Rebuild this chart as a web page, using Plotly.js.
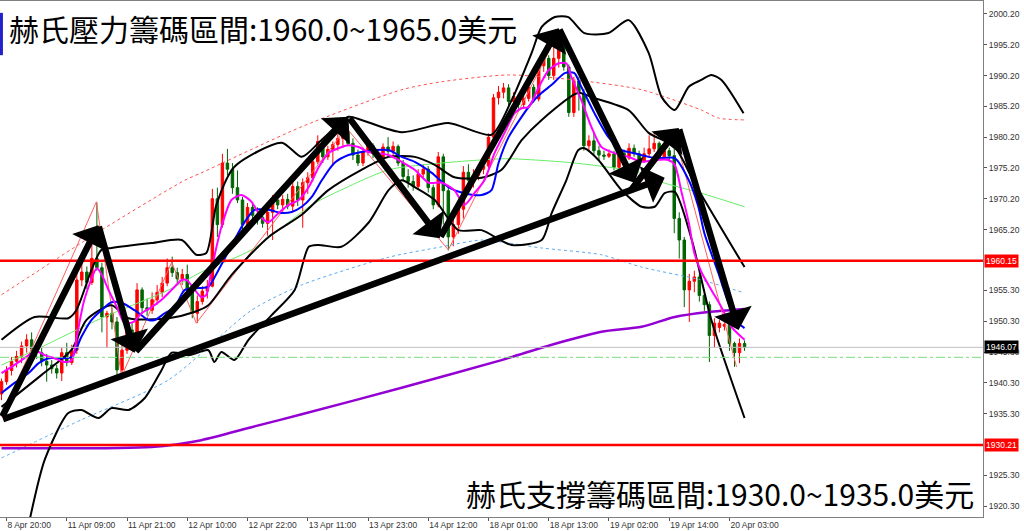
<!DOCTYPE html>
<html><head><meta charset="utf-8">
<script src="https://cdn.plot.ly/plotly-3.0.1.min.js"></script>
<style>html,body{margin:0;padding:0;background:#fff;}#chart{width:1024px;height:531px;}</style>
</head><body><div id="chart"></div>
<script>
// ---- candles (hourly bars, index 0..148) ----
const barOpen = [1938.5,1940.5,1942.3,1943.8,1944.6,1946.3,1947.3,1945.8,1945.2,1943.8,1943.2,1942.6,1941.9,1945.2,1943.6,1945.6,1957.0,1958.3,1956.6,1960.5,
1959.0,1951.0,1951.6,1950.2,1942.4,1945.6,1948.9,1947.8,1955.4,1952.5,1952.1,1953.8,1955.0,1956.5,1959.0,1958.2,1957.2,1957.9,1955.3,1951.6,
1953.5,1955.2,1956.0,1970.2,1966.0,1976.0,1975.0,1972.0,1970.0,1966.0,1968.8,1967.5,1967.2,1966.2,1968.0,1970.0,1969.2,1970.1,1969.0,1972.2,
1970.0,1972.8,1973.6,1976.2,1979.5,1977.0,1978.2,1979.0,1980.0,1981.2,1979.2,1977.3,1976.0,1977.8,1978.8,1977.5,1976.8,1978.6,1977.9,1978.7,
1976.0,1973.8,1973.0,1972.2,1974.2,1975.0,1972.0,1969.2,1977.0,1971.5,1964.0,1966.0,1968.5,1974.5,1973.2,1974.0,1975.0,1975.5,1980.2,1986.6,
1987.5,1988.2,1986.0,1986.8,1985.5,1986.5,1988.3,1986.4,1991.8,1993.0,1990.2,1993.0,1995.5,1991.6,1984.2,1989.3,1987.2,1978.8,1979.6,1978.0,
1977.3,1977.1,1977.5,1975.3,1977.6,1976.8,1978.4,1977.5,1976.3,1977.5,1978.3,1979.2,1977.0,1978.0,1977.2,1967.0,1963.5,1955.4,1956.8,1957.5,
1954.5,1953.0,1948.0,1949.3,1949.5,1949.8,1946.7,1945.2,1946.7];
const barHigh = [1941.0,1943.0,1944.5,1945.5,1947.0,1948.2,1948.5,1946.8,1946.0,1945.0,1944.0,1943.2,1946.0,1946.8,1946.5,1958.2,1960.0,1959.2,1963.0,1969.6,
1959.8,1952.0,1952.5,1951.0,1946.5,1949.8,1950.0,1956.5,1955.8,1954.0,1955.0,1956.2,1957.5,1960.5,1960.8,1959.0,1958.8,1959.5,1955.8,1954.5,
1956.0,1957.0,1971.8,1972.0,1977.5,1978.3,1976.0,1974.8,1970.5,1969.5,1969.5,1968.8,1967.8,1968.5,1970.8,1970.8,1970.8,1971.0,1973.0,1973.0,
1973.5,1974.5,1977.0,1980.5,1980.0,1978.8,1979.5,1980.8,1982.0,1982.4,1980.0,1978.2,1978.5,1979.5,1979.2,1978.2,1979.2,1980.2,1979.5,1979.0,
1976.5,1975.0,1974.0,1975.0,1975.8,1975.5,1972.5,1977.8,1977.5,1972.0,1967.0,1969.5,1975.5,1975.8,1975.0,1975.8,1976.2,1980.8,1987.2,1988.5,
1989.0,1988.8,1987.5,1987.2,1987.2,1989.0,1988.8,1992.5,1993.8,1993.5,1995.0,1997.0,1996.2,1992.0,1990.0,1990.0,1988.0,1980.5,1981.0,1978.8,
1978.0,1978.2,1978.0,1978.3,1978.2,1979.2,1979.0,1978.0,1978.5,1980.5,1980.9,1979.5,1978.6,1978.5,1978.3,1968.0,1964.0,1958.0,1958.5,1958.0,
1955.5,1953.5,1950.8,1950.5,1950.3,1950.2,1947.0,1947.5,1947.2];
const barLow = [1937.5,1940.0,1941.5,1942.8,1943.5,1945.2,1945.2,1944.2,1943.0,1940.5,1941.8,1941.0,1940.6,1943.0,1943.2,1945.0,1956.0,1955.5,1956.2,1958.5,
1948.5,1946.0,1949.0,1941.5,1940.8,1945.0,1946.8,1947.0,1951.5,1951.2,1951.5,1953.0,1954.2,1956.0,1957.5,1956.5,1956.2,1954.5,1950.8,1950.0,
1953.0,1954.0,1955.8,1964.0,1965.5,1974.0,1971.0,1969.5,1965.0,1965.2,1967.0,1966.0,1965.5,1964.2,1963.5,1968.5,1968.0,1968.5,1968.0,1969.0,
1965.5,1971.0,1973.0,1975.8,1976.0,1976.5,1975.5,1978.0,1978.5,1978.8,1976.5,1975.5,1975.5,1977.2,1976.8,1976.0,1976.2,1977.0,1977.0,1975.5,
1973.0,1972.0,1971.5,1971.8,1973.5,1971.2,1968.5,1968.8,1966.0,1961.8,1962.5,1964.5,1967.0,1972.5,1972.0,1973.2,1974.2,1975.0,1979.8,1985.5,
1986.5,1985.2,1985.0,1984.8,1984.8,1986.0,1985.8,1986.0,1990.8,1989.5,1989.5,1991.5,1991.0,1983.5,1983.5,1984.5,1978.0,1977.8,1977.2,1976.5,
1976.5,1976.8,1974.8,1975.0,1976.0,1976.5,1977.0,1975.8,1976.0,1977.0,1977.8,1976.5,1976.5,1976.2,1964.6,1960.5,1952.6,1950.2,1955.0,1953.5,
1952.0,1943.7,1946.0,1948.5,1948.8,1945.5,1942.9,1943.5,1945.5];
const barClose = [1940.5,1942.3,1943.8,1944.6,1946.3,1947.3,1945.8,1945.2,1943.8,1943.2,1942.6,1941.9,1945.2,1943.6,1945.6,1957.0,1958.3,1956.6,1960.5,1959.0,
1951.0,1951.6,1950.2,1942.4,1945.6,1948.9,1947.8,1955.4,1952.5,1952.1,1953.8,1955.0,1956.5,1959.0,1958.2,1957.2,1957.9,1955.3,1951.6,1953.5,
1955.2,1956.0,1970.2,1966.0,1976.0,1975.0,1972.0,1970.0,1966.0,1968.8,1967.5,1967.2,1966.2,1968.0,1970.0,1969.2,1970.1,1969.0,1972.2,1970.0,
1972.8,1973.6,1976.2,1979.5,1977.0,1978.2,1979.0,1980.0,1981.2,1979.2,1977.3,1976.0,1977.8,1978.8,1977.5,1976.8,1978.6,1977.9,1978.7,1976.0,
1973.8,1973.0,1972.2,1974.2,1975.0,1972.0,1969.2,1977.0,1971.5,1964.0,1966.0,1968.5,1974.5,1973.2,1974.0,1975.0,1975.5,1980.2,1986.6,1987.5,
1988.2,1986.0,1986.8,1985.5,1986.5,1988.3,1986.4,1991.8,1993.0,1990.2,1993.0,1995.5,1991.6,1984.2,1989.3,1987.2,1978.8,1979.6,1978.0,1977.3,
1977.1,1977.5,1975.3,1977.6,1976.8,1978.4,1977.5,1976.3,1977.5,1978.3,1979.2,1977.0,1978.0,1977.2,1967.0,1963.5,1955.4,1956.8,1957.5,1954.5,
1953.0,1948.0,1950.0,1950.0,1949.8,1946.7,1945.2,1946.7,1946.07];

// ---- x-axis tick labels (every 12 bars) ----
const tickBars = [1,13,25,37,49,61,73,85,97,109,121,133,145];
const tickLabels = ['8 Apr 20:00','11 Apr 09:00','11 Apr 21:00','12 Apr 10:00','12 Apr 22:00','13 Apr 11:00','13 Apr 23:00','14 Apr 12:00','18 Apr 01:00','18 Apr 13:00','19 Apr 02:00','19 Apr 14:00','20 Apr 03:00'];
const priceTicks = [2000.2,1995.2,1990.2,1985.2,1980.2,1975.2,1970.2,1965.2,1955.3,1950.3,1945.3,1940.3,1935.3,1925.3,1920.3];

// ---- indicator lines (read as bar index / price pairs) ----
const fastMaBar = [0,2,4,6,7.4,8.6,10.6,12.5,14,15,16.5,19,20,21.3,23,24.5,26.3,27.9,29.9,31.9,33.9,35.9,36.9,38.5,39.8,40.8,41.8,43.8,45.8,47.8,49.8,51.8,53.2,55.2,57.2,59.2,61.2,63.2,65.1,67.1,69.1,71.1,73.1,75.1,77.1,79.7,82.3,85.1,87.7,90.2,92.2,94.2,96.2,98.2,100.2,102.2,103.6,105,107,109,111,112.5,113.5,115.5,117.5,119.5,122.1,124.9,127.5,130.1,132.9,134.1,135.5,136.9,138,139.4,141.4,143.4,145.4,148];
const fastMaVal = [1941.9,1942.9,1944.0,1945.1,1945.3,1944.8,1944.3,1943.7,1944.0,1947.8,1953.8,1958.9,1957.8,1955.4,1952.6,1950.0,1950.2,1951.6,1952.6,1953.8,1955.4,1957.0,1957.0,1955.4,1954.2,1954.6,1958.6,1965.6,1970.0,1970.8,1969.7,1967.1,1966.4,1967.9,1969.2,1970.0,1972.1,1975.35,1977.6,1978.4,1978.9,1978.6,1977.8,1977.6,1977.3,1976.2,1974.9,1972.8,1972.8,1971.6,1969.2,1971.1,1973.2,1977.6,1980.9,1984.1,1984.9,1985.1,1988.3,1991.1,1992.2,1992.2,1990.0,1986.2,1981.85,1978.6,1977.6,1977.0,1976.2,1976.5,1976.5,1975.7,1971.1,1966.3,1961.4,1958.3,1955.4,1952.6,1949.4,1947.3];
const slowMaBar = [0,2.6,5.4,7.4,9.4,12,14,15.9,17.9,19.9,21.9,23.9,26.5,29.3,30.5,32.5,34.5,36.5,39.2,41.2,43.2,46.4,48.4,50.4,53.2,55.8,57.8,59.8,61.8,63.8,66.3,69.1,71.7,74.3,77.1,79.7,82.3,85.7,89,92.2,95.6,97.6,99,101,103.6,105.6,107.6,109.6,112.2,114.1,115.5,118.1,120.9,123.5,126.1,128.9,131.5,134.1,136.9,138.8,140,142.8,144.8,146.8,148];
const slowMaVal = [1938.65,1940.3,1941.9,1943.5,1944.3,1944.3,1944.5,1947.75,1950.5,1952.1,1953.4,1953.3,1952.1,1950.5,1950.5,1951.6,1952.6,1955.4,1955.7,1955.9,1958.6,1963.5,1966.4,1968.4,1968.4,1967.9,1968.05,1968.9,1970.5,1973.2,1976.0,1977.3,1977.8,1978.1,1978.1,1977.0,1976.2,1974.4,1972.1,1971.1,1970.8,1971.6,1976.0,1980.2,1983.5,1985.75,1987.4,1988.7,1990.6,1990.6,1988.35,1984.1,1980.2,1978.1,1977.6,1977.0,1976.8,1976.8,1973.2,1968.9,1964.6,1958.1,1953.3,1950.0,1949.2];
const ma50Bar = [0,6.6,19.9,33.3,39.8,49.8,61.8,66.3,77.1,87.7,95.6,101,114.1,127.5,131.5,139.4,148];
const ma50Val = [1943.2,1945.6,1950.8,1955.4,1958.3,1961.9,1969.2,1971.1,1974.9,1976.0,1976.5,1976.7,1976.0,1974.4,1972.9,1971.1,1968.9];
const ma100Bar = [0,15.9,33.3,49.8,59.8,77.1,87.7,95.6,101,107.6,119.5,127.5,139.4,148];
const ma100Val = [1928.1,1934.3,1940.8,1952.1,1956.2,1960.7,1962.4,1963.5,1963.0,1962.2,1961.1,1959.1,1957.0,1954.9];
const envBar = [0,19.9,36.5,39.8,59.8,79.7,87.7,101,114.1,127.5,139.4,142.8,148];
const envVal = [1954.6,1965.1,1973.2,1974.4,1981.9,1987.9,1989.2,1990.3,1989.5,1987.9,1984.6,1983.3,1983.0];
const ma200Bar = [0,29.9,39.8,49.8,59.8,79.7,99.6,109.6,119.5,127.5,134.1,140.8,148];
const ma200Val = [1929.7,1929.9,1931.0,1933.1,1935.2,1939.5,1944.0,1946.5,1948.6,1949.4,1951.0,1951.8,1952.3];
const bbUpBar = [0,6.6,13.3,14.9,17.9,19.9,21.9,29.9,35.9,38.8,40.8,42.8,46.4,55.8,59.8,63.7,69.1,71.7,79.7,89,97.6,101.6,105.6,107.6,110.2,112.9,116.1,120.9,124.9,128.9,131.5,134.1,136.9,139.4,141.4,143.4,147.8];
const bbUpVal = [1947.3,1951.0,1950.8,1952.1,1958.6,1961.9,1962.2,1963.0,1963.5,1961.1,1961.4,1969.2,1975.4,1979.3,1977.0,1979.7,1983.5,1983.0,1981.0,1982.5,1980.6,1986.2,1993.9,1998.1,1999.7,1999.7,1997.1,1997.1,1999.2,1993.9,1986.7,1984.6,1988.4,1989.5,1990.3,1989.5,1984.1];
const bbMidBar = [0,8,13.9,16.9,21.9,25.3,33.3,38.4,41.2,45.8,53.2,59.8,65.1,71.7,77.1,82.3,86.3,90.2,95.6,99.6,103.6,107.6,114.9,117.5,124.9,128.9,134.1,138,148];
const bbMidVal = [1936.4,1941.6,1945.6,1950.5,1952.9,1950.8,1950.8,1951.8,1952.9,1957.8,1964.0,1967.6,1971.6,1974.9,1977.0,1977.0,1975.7,1973.7,1973.6,1974.9,1979.7,1983.0,1987.4,1986.7,1984.6,1980.9,1978.6,1972.8,1959.1];
const bbLowBar = [5.6,8.6,13.3,15.9,19.3,21.9,25.3,28.5,31.9,33.9,37.3,41.2,42.4,43.8,46.4,49.2,53.8,58.4,61.2,63.1,67.7,73.1,77.1,79.7,82.3,86.3,91.0,95.6,101.6,107.6,109.6,112.5,114.9,116.1,118.9,123.5,127.5,130.1,132.1,134.1,137.5,141.4,148];
const bbLowVal = [1918.0,1927.8,1935.4,1935.9,1934.6,1936.2,1935.9,1937.8,1942.4,1945.2,1944.8,1945.6,1943.7,1945.3,1944.0,1947.3,1951.3,1955.4,1962.4,1962.7,1962.4,1966.3,1971.6,1973.2,1972.1,1970.0,1965.1,1965.1,1962.7,1963.5,1967.9,1973.2,1978.1,1978.4,1976.5,1971.6,1968.9,1968.9,1971.1,1971.3,1963.5,1950.5,1934.6];
const zigBar = [0,18.9,23.9,33.9,38.8,68.7,89,111,126.9,134.1,146.4];
const zigVal = [1934.8,1969.7,1941.3,1959.9,1950.0,1981.7,1961.9,1997.3,1972.4,1980.6,1942.9];

// ---- levels ----
const resistLevel = 1960.15, supportLevel = 1930.21, lastPrice = 1946.07, bidLine = 1944.45;

// ---- hand-drawn arrows (tail -> tip, bar index / price) ----
const arrowTailBar = [0,19.3,26.5,69.1,87.3,111.0,125.1,134.9,0];
const arrowTailVal = [1934.6,1965.9,1945.2,1983.5,1963.8,1997.9,1971.3,1981.7,1934.3];
const arrowTipBar  = [19.3,26.5,69.1,87.3,111.0,126.1,134.9,146.8,132.1];
const arrowTipVal  = [1965.9,1945.2,1983.5,1963.8,1997.9,1972.8,1981.7,1948.9,1973.6];

const topText = '赫氏壓力籌碼區間:1960.0~1965.0美元';
const bottomText = '赫氏支撐籌碼區間:1930.0~1935.0美元';

const barIdx = barOpen.map((_, i) => i);

function line(xs, ys, color, width, dash, smooth) {
  return {type:'scatter', mode:'lines', x:xs, y:ys, hoverinfo:'skip', showlegend:false,
    line:{color:color, width:width, dash:dash||'solid', shape: smooth ? 'spline' : 'linear', smoothing: smooth?0.7:0}};
}

const traces = [
  line(ma100Bar, ma100Val, '#5aaaf0', 1, 'dot', true),
  line(envBar, envVal, '#ff5050', 1, 'dot', true),
  line(ma50Bar, ma50Val, '#66ee66', 1, 'solid', true),
  line(ma200Bar, ma200Val, '#9400d3', 2.5, 'solid', true),
  line(zigBar, zigVal, '#ff6060', 1, 'solid', false),
  {type:'candlestick', x:barIdx, open:barOpen, high:barHigh, low:barLow, close:barClose,
   increasing:{line:{color:'#ff0000', width:1}, fillcolor:'#ff0000'},
   decreasing:{line:{color:'#006400', width:1}, fillcolor:'#006400'},
   whiskerwidth:0, hoverinfo:'skip', showlegend:false},
  line(bbUpBar, bbUpVal, '#000000', 2, 'solid', true),
  line(bbMidBar, bbMidVal, '#000000', 2, 'solid', true),
  line(bbLowBar, bbLowVal, '#000000', 2, 'solid', true),
  line(slowMaBar, slowMaVal, '#0000ff', 2, 'solid', true),
  line(fastMaBar, fastMaVal, '#ff00ff', 2, 'solid', true)
];

const shapes = [
  {type:'line', xref:'paper', x0:0, x1:1, yref:'y', y0:lastPrice, y1:lastPrice, line:{color:'#c0c0c0', width:1}},
  {type:'line', xref:'paper', x0:0, x1:1, yref:'y', y0:bidLine, y1:bidLine, line:{color:'#77dd77', width:1, dash:'dashdot'}},
  {type:'line', xref:'paper', x0:0, x1:1, yref:'y', y0:resistLevel, y1:resistLevel, line:{color:'#ff0000', width:2.5}},
  {type:'line', xref:'paper', x0:0, x1:1, yref:'y', y0:supportLevel, y1:supportLevel, line:{color:'#ff0000', width:2.5}},
  {type:'rect', xref:'paper', yref:'paper', x0:0, x1:0.003, y0:0.895, y1:0.977, fillcolor:'#2222cc', line:{width:0}}
];

const annotations = [];
for (let i = 0; i < arrowTipBar.length; i++) {
  annotations.push({x:arrowTipBar[i], y:arrowTipVal[i], ax:arrowTailBar[i], ay:arrowTailVal[i],
    xref:'x', yref:'y', axref:'x', ayref:'y', text:'', showarrow:true,
    arrowhead:1, arrowsize:1, arrowwidth:6.5, arrowcolor:'#000000'});
}
function priceLabel(v, bg) {
  return {xref:'paper', x:1, xanchor:'left', xshift:1, yref:'y', y:v, yanchor:'middle',
    text:v.toFixed(2), showarrow:false, bgcolor:bg, borderpad:1,
    font:{family:'Liberation Sans', size:8.5, color:'#ffffff'}};
}
annotations.push(priceLabel(resistLevel, '#ff0000'));
annotations.push(priceLabel(supportLevel, '#ff0000'));
annotations.push(priceLabel(lastPrice, '#000000'));
annotations.push({xref:'paper', yref:'paper', x:0.006, y:1, xanchor:'left', yanchor:'top', yshift:-2,
  text:topText, showarrow:false, bgcolor:'#ffffff', borderpad:2,
  font:{family:'Noto Sans CJK TC', size:30, color:'#000000'}});
annotations.push({xref:'paper', yref:'paper', x:0.993, y:0, xanchor:'right', yanchor:'bottom', yshift:0,
  text:bottomText, showarrow:false, bgcolor:'rgba(255,255,255,0)', borderpad:1,
  font:{family:'Noto Sans CJK TC', size:30, color:'#000000'}});

const layout = {
  width:1024, height:531,
  margin:{l:0, r:41, t:1, b:14, pad:0},
  paper_bgcolor:'#ffffff', plot_bgcolor:'#ffffff',
  showlegend:false,
  xaxis:{range:[-0.3,195.5], showgrid:false, zeroline:false, showline:true, mirror:true, linecolor:'#808080', linewidth:1,
    tickmode:'array', tickvals:tickBars, ticktext:tickLabels, ticks:'outside', ticklen:3, tickcolor:'#555',
    ticklabelposition:'outside right', tickfont:{family:'Liberation Sans', size:8.5, color:'#333'},
    rangeslider:{visible:false}, fixedrange:true},
  yaxis:{range:[1918.52,2002.31], side:'right', showgrid:false, zeroline:false, showline:true, linecolor:'#808080', linewidth:1,
    tickmode:'array', tickvals:priceTicks, ticktext:priceTicks.map(v => v.toFixed(2)), ticks:'outside', ticklen:3, tickcolor:'#555',
    tickfont:{family:'Liberation Sans', size:8.5, color:'#333'}, fixedrange:true},
  shapes:shapes,
  annotations:annotations
};

Plotly.newPlot('chart', traces, layout, {staticPlot:true, displayModeBar:false});
</script>
</body></html>
